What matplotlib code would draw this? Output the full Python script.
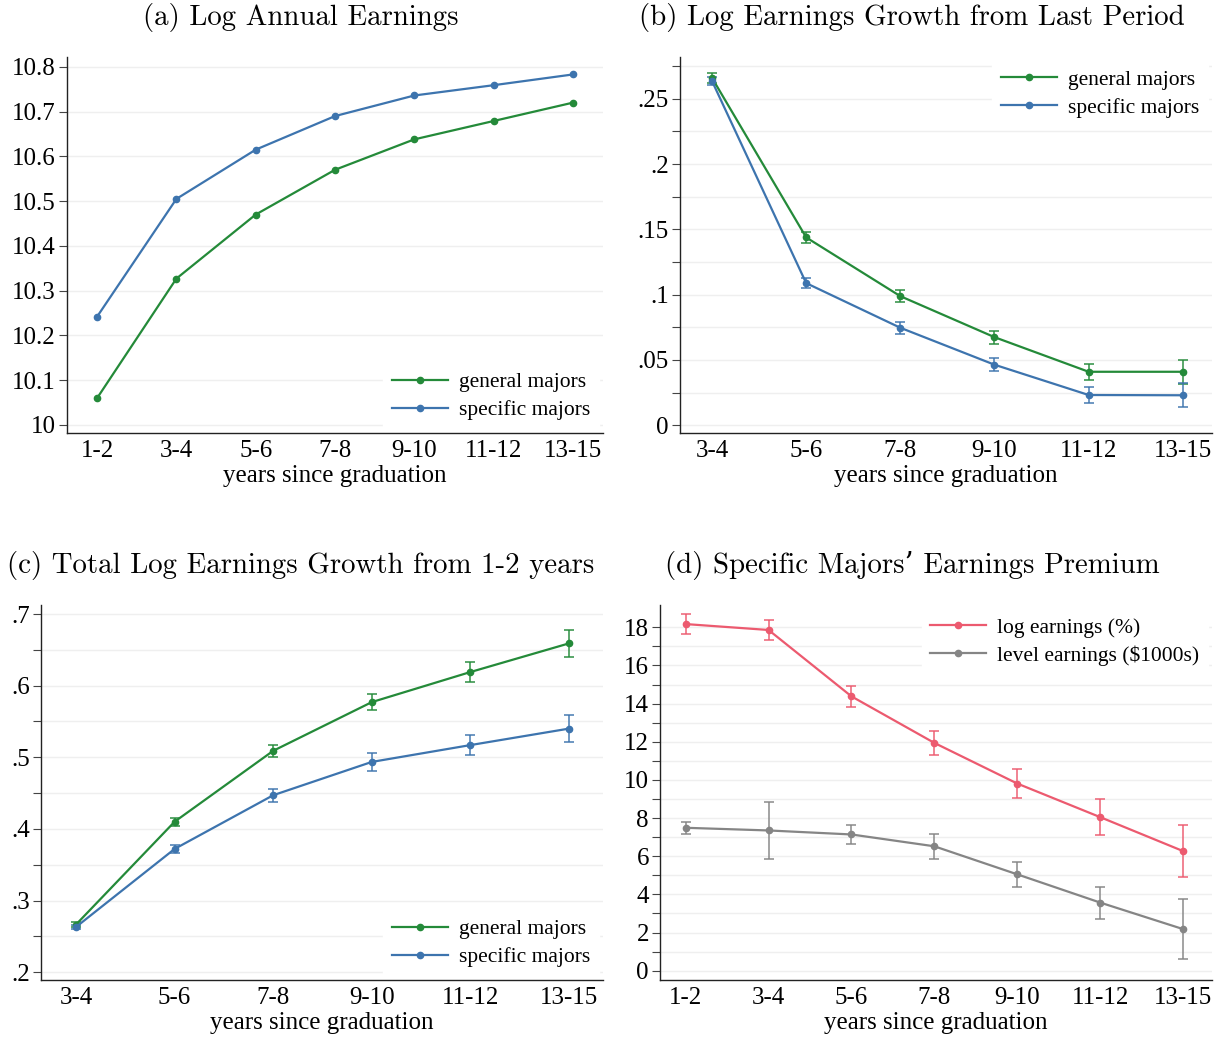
import matplotlib
matplotlib.use("Agg")
import matplotlib.pyplot as plt
import numpy as np

# ---------------- data ----------------
cats_a = ["1-2", "3-4", "5-6", "7-8", "9-10", "11-12", "13-15"]
cats_bc = ["3-4", "5-6", "7-8", "9-10", "11-12", "13-15"]

a_general = [10.060, 10.327, 10.470, 10.570, 10.638, 10.679, 10.720]
a_specific = [10.242, 10.505, 10.615, 10.690, 10.736, 10.759, 10.783]

b_general = [0.266, 0.1438, 0.0988, 0.0674, 0.0409, 0.0409]
b_general_err = [0.004, 0.004, 0.0044, 0.0049, 0.006, 0.0093]
b_specific = [0.2636, 0.1088, 0.0746, 0.0463, 0.0231, 0.0229]
b_specific_err = [0.003, 0.0041, 0.0045, 0.0051, 0.0062, 0.0093]

c_general = [0.2664, 0.410, 0.509, 0.577, 0.619, 0.659]
c_general_err = [0.003, 0.0056, 0.008, 0.011, 0.014, 0.019]
c_specific = [0.263, 0.372, 0.447, 0.4935, 0.517, 0.540]
c_specific_err = [0.003, 0.006, 0.009, 0.012, 0.0145, 0.019]

d_log = [18.17, 17.86, 14.38, 11.94, 9.81, 8.05, 6.27]
d_log_err = [0.51, 0.51, 0.56, 0.63, 0.76, 0.96, 1.35]
d_level = [7.49, 7.35, 7.14, 6.52, 5.05, 3.57, 2.18]
d_level_err = [0.30, 1.48, 0.49, 0.65, 0.64, 0.84, 1.59]

titles = ["(a) Log Annual Earnings",
          "(b) Log Earnings Growth from Last Period",
          "(c) Total Log Earnings Growth from 1-2 years",
          "(d) Specific Majors\u2019 Earnings Premium"]
xlabel = "years since graduation"

GREEN = "#248A39"
BLUE = "#3D74AE"
RED = "#EC5A6F"
GRAY = "#858585"
GRID = "#EFEFEF"

plt.rcParams["font.family"] = ["Liberation Serif", "DejaVu Serif"]

W, H = 1221, 1038
fig = plt.figure(figsize=(W / 100, H / 100), dpi=100)


def px_axes(left, top, right, bottom):
    return fig.add_axes([left / W, 1 - bottom / H, (right - left) / W, (bottom - top) / H])


TICKFS = 18
LEGFS = 15.5
TITLEFS = 20.8


def style(ax, cats, xlim, ylim, major, minor, fmt, title, title_x, title_y):
    ax.set_xlim(*xlim)
    ax.set_ylim(*ylim)
    ax.set_xticks(range(len(cats)))
    ax.set_xticklabels(cats)
    ax.set_yticks(major)
    ax.set_yticklabels([fmt(v) for v in major])
    if minor is not None:
        ax.set_yticks(minor, minor=True)
    for s in ["top", "right"]:
        ax.spines[s].set_visible(False)
    for s in ["left", "bottom"]:
        ax.spines[s].set_linewidth(1.0)
        ax.spines[s].set_color("#222222")
    ax.tick_params(axis="x", length=0, labelsize=TICKFS, pad=5)
    ax.tick_params(axis="y", which="both", length=6, width=0.8, color="#444444",
                   labelsize=TICKFS, pad=2)
    ax.grid(axis="y", which="both", color=GRID, linewidth=1.0)
    ax.set_axisbelow(True)
    ax.set_xlabel(xlabel, fontsize=TICKFS, labelpad=2)
    fig.text(title_x / W, 1 - title_y / H, title, fontsize=TITLEFS,
             family=["cmr10", "DejaVu Serif"], ha="center", va="center")


def line(ax, x, y, color, label, err=None):
    if err is not None:
        ax.errorbar(x, y, yerr=err, fmt="none", ecolor=color, alpha=0.75,
                    elinewidth=1.4, capsize=3.3, capthick=1.4, zorder=2)
    ax.plot(x, y, color=color, lw=1.6, marker="o", ms=4.5, label=label, zorder=3)


def legend(ax, loc):
    lg = ax.legend(loc=loc, fontsize=LEGFS, frameon=True, fancybox=False,
                   handlelength=2.6, handletextpad=0.5, labelspacing=0.35,
                   borderaxespad=0.2, borderpad=0.4)
    lg.get_frame().set_edgecolor("white")
    lg.get_frame().set_facecolor("white")
    lg.get_frame().set_alpha(1)


def fmt_a(v):
    return "10" if abs(v - 10) < 1e-9 else f"{v:.1f}"


def fmt_dot(v):
    if abs(v) < 1e-9:
        return "0"
    s = f"{v:.2f}".rstrip("0")
    return s[1:] if s.startswith("0") else s


def fmt_int(v):
    return f"{v:.0f}"


# (a)
ax = px_axes(67, 57, 603, 433)
xa = np.arange(len(cats_a))
line(ax, xa, a_general, GREEN, "general majors")
line(ax, xa, a_specific, BLUE, "specific majors")
style(ax, cats_a, (-0.38, 6.38), (9.982, 10.822), np.arange(10.0, 10.81, 0.1), None,
      fmt_a, titles[0], 301, 17)
legend(ax, "lower right")

# (b)
ax = px_axes(680, 57, 1212, 433)
xb = np.arange(len(cats_bc))
line(ax, xb, b_general, GREEN, "general majors", b_general_err)
line(ax, xb, b_specific, BLUE, "specific majors", b_specific_err)
style(ax, cats_bc, (-0.34, 5.31), (-0.006, 0.282), np.arange(0, 0.2501, 0.05),
      np.arange(0.025, 0.276, 0.05), fmt_dot, titles[1], 912, 17)
legend(ax, "upper right")

# (c)
ax = px_axes(41, 605, 603, 980)
line(ax, xb, c_general, GREEN, "general majors", c_general_err)
line(ax, xb, c_specific, BLUE, "specific majors", c_specific_err)
style(ax, cats_bc, (-0.355, 5.345), (0.189, 0.7126), np.arange(0.2, 0.701, 0.1),
      np.arange(0.25, 0.70, 0.1), fmt_dot, titles[2], 301, 565)
legend(ax, "lower right")

# (d)
ax = px_axes(660, 605, 1212, 980)
line(ax, xa, d_log, RED, "log earnings (%)", d_log_err)
line(ax, xa, d_level, GRAY, "level earnings ($1000s)", d_level_err)
style(ax, cats_a, (-0.31, 6.35), (-0.49, 19.17), np.arange(0, 18.1, 2),
      np.arange(1, 19, 2), fmt_int, titles[3], 912, 565)
legend(ax, "upper right")

fig.savefig("out.png", dpi=100)
